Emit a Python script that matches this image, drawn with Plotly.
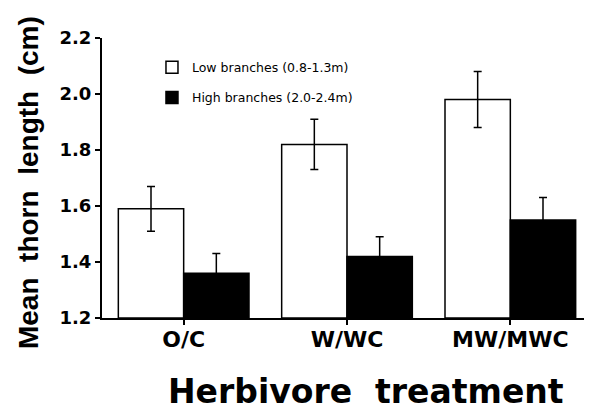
import plotly.graph_objects as go

categories = ["O/C", "W/WC", "MW/MWC"]
low_means = [1.59, 1.82, 1.98]
low_err = [0.08, 0.09, 0.10]
high_means = [1.36, 1.42, 1.55]
high_err = [0.07, 0.07, 0.08]
yticks = [1.2, 1.4, 1.6, 1.8, 2.0, 2.2]

BOLD = "DejaVu Sans, Verdana, sans-serif"
ARIAL = "Liberation Sans, Arial, Helvetica, sans-serif"

# page body has an 8px margin, so figure is 584x403 to fill the 592x411 window
W, H = 584, 403
L, R, T, B = 94, 0, 30, 93

fig = go.Figure()
fig.add_trace(go.Bar(
    x=categories, y=[m - 1.2 for m in low_means], base=1.2,
    name="Low branches (0.8-1.3m)", legendgroup="a",
    marker=dict(color="white", line=dict(color="black", width=1.5)),
    error_y=dict(type="data", array=low_err, color="black", thickness=1.5, width=4),
))
fig.add_trace(go.Bar(
    x=categories, y=[m - 1.2 for m in high_means], base=1.2,
    name="High branches (2.0-2.4m)", legendgroup="b",
    marker=dict(color="black", line=dict(color="black", width=1.5)),
    error_y=dict(type="data", array=high_err, color="black", thickness=1.5, width=4),
))

fig.update_layout(
    width=W, height=H,
    margin=dict(l=L, r=R, t=T, b=B),
    paper_bgcolor="white", plot_bgcolor="white",
    barmode="group", bargap=0.2, bargroupgap=0,
    font=dict(family=ARIAL, color="black"),
    showlegend=True,
    legend=dict(x=0.102, y=0.948, xanchor="left", yanchor="top",
                font=dict(size=12.5, family="DejaVu Sans, sans-serif"),
                traceorder="grouped", tracegroupgap=11,
                bgcolor="rgba(0,0,0,0)"),
    xaxis=dict(range=[-0.5, 2.5], showline=True, linecolor="black", linewidth=2,
               ticks="outside", ticklen=5, tickwidth=1.5, tickcolor="black",
               ticklabelstandoff=-4,
               tickfont=dict(size=22, family=BOLD, weight="bold"),
               showgrid=False, zeroline=False),
    yaxis=dict(range=[1.2, 2.2], tickvals=yticks, ticktext=[f"{v:.1f}" for v in yticks],
               showline=True, linecolor="black", linewidth=2,
               ticks="outside", ticklen=5, tickwidth=1.5, tickcolor="black",
               tickfont=dict(size=18, family=BOLD, weight="bold"),
               showgrid=False, zeroline=False),
    annotations=[
        dict(text="Herbivore  treatment", xref="paper", yref="paper",
             x=0.539, y=-0.262, xanchor="center", yanchor="middle", showarrow=False,
             font=dict(size=33, family=BOLD, weight="bold")),
        dict(text="Mean  thorn  length  (cm)", xref="paper", yref="paper",
             x=-0.151, y=0.482, xanchor="center", yanchor="middle", showarrow=False,
             textangle=-90,
             font=dict(size=28, family=ARIAL, weight="bold")),
    ],
)

fig.write_html("out.html")
